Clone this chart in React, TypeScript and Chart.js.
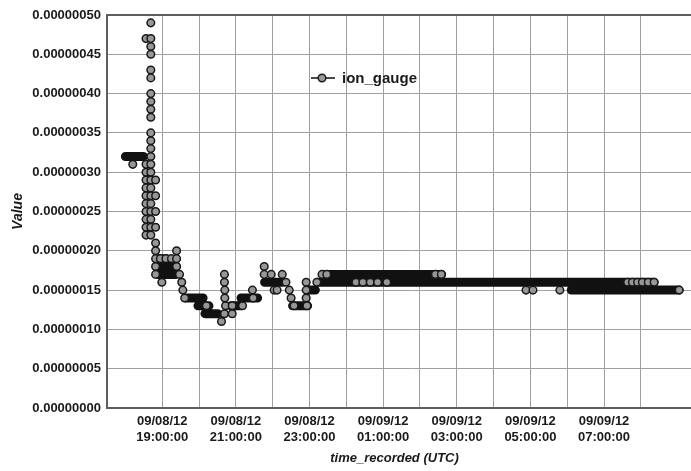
import React, { useEffect, useRef } from 'react';
import { Chart, registerables } from 'chart.js';

Chart.register(...registerables);

// x: hours since 09/08/12 00:00 UTC (25 = 09/09/12 01:00); y: value in units of 1e-8
const VALUE_SCALE = 1e-8;

// individually visible readings
const pointHours = [
  18.2,
  // first column of the spike
  18.56, 18.56, 18.56, 18.56, 18.56, 18.56, 18.56, 18.56, 18.56, 18.56, 18.56,
  // second column of the spike
  18.69, 18.69, 18.69, 18.69, 18.69, 18.69, 18.69, 18.69, 18.69, 18.69, 18.69, 18.69,
  18.69, 18.69, 18.69, 18.69, 18.69, 18.69, 18.69, 18.69, 18.69, 18.69, 18.69, 18.69,
  // third column of the spike
  18.82, 18.82, 18.82, 18.82, 18.82, 18.82, 18.82, 18.82, 18.82,
  // decay
  18.99, 18.95, 19.1, 19.25, 19.39, 19.39, 19.39, 19.47, 19.53, 19.56, 19.61, 20.2, 20.61,
  20.69, 20.69, 20.7, 20.7, 20.72, 20.69, 20.9, 20.9, 21.18, 21.45, 21.47,
  21.77, 21.77, 21.96, 22.04, 22.12, 22.26, 22.36, 22.45, 22.5, 22.58,
  22.91, 22.91, 22.91, 22.93, 23.2, 23.34, 23.47,
  24.26, 24.45, 24.65, 24.85, 25.1,
  26.42, 26.58,
  28.88, 29.07, 29.8,
  31.64, 31.77, 31.91, 32.04, 32.2, 32.36,
  33.04,
];
const pointValues = [
  31,
  47, 31, 30, 29, 28, 27, 26, 25, 24, 23, 22,
  49, 47, 46, 45, 43, 42, 40, 39, 38, 37, 35, 34,
  33, 32, 31, 30, 29, 28, 27, 26, 25, 24, 23, 22,
  29, 27, 25, 23, 21, 20, 19, 18, 17,
  16, 19, 19, 19, 20, 19, 18, 17, 16, 15, 14, 13, 11,
  17, 16, 15, 14, 13, 12, 13, 12, 13, 15, 14,
  18, 17, 17, 15, 15, 17, 16, 15, 14, 13,
  16, 15, 14, 13, 16, 17, 17,
  16, 16, 16, 16, 16,
  17, 17,
  15, 15, 15,
  16, 16, 16, 16, 16, 16,
  15,
];

// stretches of continuous, overlapping readings at one level
const runStartHours = [18.0, 18.88, 18.88, 18.88, 19.65, 19.97, 20.16, 20.86, 21.14, 21.78, 22.54, 22.95, 23.22, 23.43, 30.11];
const runEndHours = [18.49, 19.38, 19.38, 19.12, 20.11, 20.27, 20.51, 21.14, 21.59, 22.27, 22.95, 23.16, 32.36, 26.59, 33.04];
const runValues = [32, 17, 18, 19, 14, 13, 12, 13, 14, 16, 13, 15, 16, 17, 15];

// axis ticks
const gridHours = [19, 20, 21, 22, 23, 24, 25, 26, 27, 28, 29, 30, 31, 32];
const labelHours = [19, 21, 23, 25, 27, 29, 31];
const tickDateLabels = ['09/08/12', '09/08/12', '09/08/12', '09/09/12', '09/09/12', '09/09/12', '09/09/12'];
const tickTimeLabels = ['19:00:00', '21:00:00', '23:00:00', '01:00:00', '03:00:00', '05:00:00', '07:00:00'];

const SERIES_LABEL = 'ion_gauge';
const X_TITLE = 'time_recorded (UTC)';
const Y_TITLE = 'Value';

const FONT = "'Liberation Sans', Arial, Helvetica, sans-serif";

export default function App() {
  const ref = useRef<HTMLCanvasElement>(null);

  useEffect(() => {
    const canvas = ref.current;
    if (!canvas) return;

    const pts = pointHours.map((h, i) => ({ x: h, y: pointValues[i] }));
    const runs: { x: number; y: number | null }[] = [];
    runStartHours.forEach((s, i) => {
      runs.push({ x: s, y: runValues[i] });
      runs.push({ x: runEndHours[i], y: runValues[i] });
      runs.push({ x: runEndHours[i], y: null });
    });

    const legendPlugin = {
      id: 'inlineLegend',
      afterDraw(chart: any) {
        const { ctx, chartArea } = chart;
        const x0 = chartArea.left + 204;
        const y0 = chartArea.top + 63;
        ctx.save();
        ctx.strokeStyle = '#4a4a4a';
        ctx.lineWidth = 2;
        ctx.beginPath();
        ctx.moveTo(x0, y0);
        ctx.lineTo(x0 + 24, y0);
        ctx.stroke();
        ctx.beginPath();
        ctx.arc(x0 + 11, y0, 3.8, 0, Math.PI * 2);
        ctx.fillStyle = '#9a9a9a';
        ctx.fill();
        ctx.lineWidth = 1.5;
        ctx.strokeStyle = '#1c1c1c';
        ctx.stroke();
        ctx.font = `bold 15px ${FONT}`;
        ctx.fillStyle = '#1a1a1a';
        ctx.textBaseline = 'middle';
        ctx.textAlign = 'left';
        ctx.fillText(chart.data.datasets[0].label, x0 + 31, y0 + 1);
        ctx.restore();
      },
    };

    const xTitlePlugin = {
      id: 'xTitle',
      afterDraw(chart: any) {
        const { ctx, chartArea } = chart;
        ctx.save();
        ctx.font = `italic bold 13px ${FONT}`;
        ctx.fillStyle = '#1a1a1a';
        ctx.textAlign = 'center';
        ctx.textBaseline = 'middle';
        ctx.fillText(X_TITLE, 394.5, chartArea.bottom + 50);
        ctx.restore();
      },
    };

    const chart = new Chart(canvas, {
      type: 'scatter',
      data: {
        datasets: [
          {
            label: SERIES_LABEL,
            data: pts,
            showLine: false,
            pointRadius: 3.8,
            pointBorderWidth: 1.5,
            pointBackgroundColor: '#979797',
            pointBorderColor: '#181818',
            order: 0,
          },
          {
            label: SERIES_LABEL + ' (dense)',
            data: runs as any,
            showLine: true,
            borderColor: '#111111',
            borderWidth: 9,
            borderCapStyle: 'round',
            pointRadius: 0,
            spanGaps: false,
            order: 1,
          },
        ],
      },
      options: {
        animation: false,
        responsive: true,
        maintainAspectRatio: false,
        layout: { padding: { top: 15, right: 4, left: 0, bottom: 0 } },
        plugins: { legend: { display: false }, tooltip: { enabled: false } },
        scales: {
          x: {
            type: 'linear',
            min: 17.5,
            max: 34,
            afterBuildTicks: (s: any) => {
              s.ticks = gridHours.map((v) => ({ value: v }));
            },
            afterFit: (s: any) => {
              s.height = 63;
            },
            grid: { color: '#a0a0a0', lineWidth: 1, drawTicks: false },
            border: { color: '#5e5e5e', width: 2 },
            ticks: {
              autoSkip: false,
              maxRotation: 0,
              padding: 5,
              color: '#1a1a1a',
              font: { family: FONT, size: 13, weight: 'bold', lineHeight: 1.25 },
              callback: (v: any) => {
                const i = labelHours.indexOf(Number(v));
                return i < 0 ? '' : [tickDateLabels[i], tickTimeLabels[i]];
              },
            },
          },
          y: {
            min: 0,
            max: 50,
            afterFit: (s: any) => {
              s.width = 107;
            },
            title: {
              display: true,
              text: Y_TITLE,
              color: '#1a1a1a',
              font: { family: FONT, size: 14, weight: 'bold', style: 'italic' },
              padding: { top: 10, bottom: 0 },
            },
            grid: {
              color: (c: any) => (c.tick && c.tick.value === 50 ? '#5e5e5e' : '#a0a0a0'),
              lineWidth: (c: any) => (c.tick && c.tick.value === 50 ? 2 : 1),
              drawTicks: false,
            },
            border: { color: '#5e5e5e', width: 2 },
            ticks: {
              stepSize: 5,
              padding: 6,
              color: '#1a1a1a',
              font: { family: FONT, size: 13, weight: 'bold' },
              callback: (v: any) => (Number(v) * VALUE_SCALE).toFixed(8),
            },
          },
        },
      },
      plugins: [legendPlugin, xTitlePlugin],
    } as any);

    return () => chart.destroy();
  }, []);

  return (
    <div style={{ position: 'fixed', left: 0, top: 0, width: 691, height: 471, overflow: 'hidden', background: '#ffffff' }}>
      <div style={{ position: 'relative', width: 720, height: 471 }}>
        <canvas ref={ref} />
      </div>
    </div>
  );
}
